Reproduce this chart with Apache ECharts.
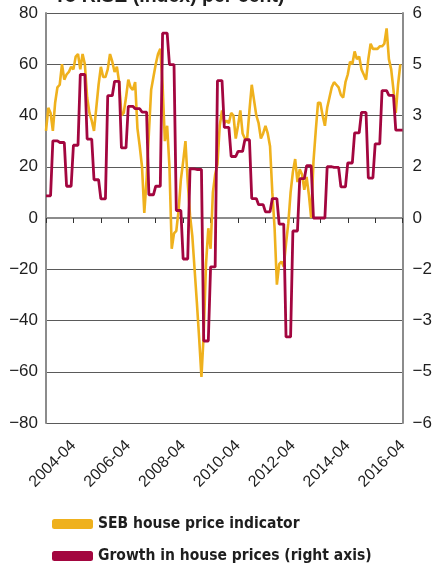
<!DOCTYPE html>
<html>
<head>
<meta charset="utf-8">
<script src="https://cdn.jsdelivr.net/npm/echarts@6/dist/echarts.min.js"></script>
<style>
  html, body { margin: 0; padding: 0; background: #ffffff; }
  #chart { width: 435px; height: 564px; }
</style>
</head>
<body>
<div id="chart"></div>
<script>
// Monthly categories, April 2003 to April 2016
const firstYear = 2003, firstMonth = 4, lastYear = 2016, lastMonth = 4;
const months = [];
for (let y = firstYear; y <= lastYear; y++) {
  for (let m = 1; m <= 12; m++) {
    if (y === firstYear && m < firstMonth) continue;
    if (y === lastYear && m > lastMonth) break;
    months.push(y + '-' + (m < 10 ? '0' + m : m));
  }
}

// Labelled dates on the time axis
const tickLabels = ['2004-04', '2006-04', '2008-04', '2010-04', '2012-04', '2014-04', '2016-04'];

const seriesNames = ['SEB house price indicator', 'Growth in house prices (right axis)'];

// SEB house price indicator (index), monthly from 2003-04
const sebIndicator = [
  34, 43, 41, 34, 45, 51, 52, 60, 54, 56, 57, 59,
  58, 63, 64, 58, 64, 60, 47, 41, 38, 34, 43, 52,
  59, 55, 55, 58, 64, 61, 57, 59, 53, 40, 41, 47,
  54, 51, 50, 53, 35, 28, 20, 2, 15, 33, 50, 55,
  60, 64, 66, 52, 30, 36, 20, -12, -6, -5, 3, 15,
  22, 30, 14, 1, -7, -20, -33, -47, -62, -45, -18, -4,
  -12, 10, 17, 21, 36, 42, 37, 38, 37, 41, 40, 31,
  36, 42, 33, 31, 31, 42, 52, 46, 40, 37, 31, 33,
  36, 33, 28, 10, -4, -26, -18, -17, -19, -10, -2, 10,
  18, 23, 14, 19, 17, 11, 16, 9, 0, 22, 34, 45,
  45, 40, 36, 43, 47, 51, 53, 52, 51, 48, 47, 53,
  56, 61, 60, 65, 62, 63, 58, 56, 54, 62, 68, 66,
  66, 66, 67, 67, 68, 74, 62, 58, 50, 41, 52, 60
];

// Growth in house prices (per cent, right axis), monthly from 2003-04
const priceGrowth = [
  0.65, 0.65, 0.65, 2.26, 2.26, 2.26, 2.21, 2.21, 2.21, 0.93, 0.93, 0.93,
  2.13, 2.13, 2.13, 4.2, 4.2, 4.2, 2.31, 2.31, 2.31, 1.12, 1.12, 1.12,
  0.56, 0.56, 0.56, 3.58, 3.58, 3.58, 4.0, 4.0, 4.0, 2.05, 2.05, 2.05,
  3.27, 3.27, 3.27, 3.2, 3.2, 3.2, 3.1, 3.1, 3.1, 0.68, 0.68, 0.68,
  0.93, 0.93, 0.93, 5.41, 5.41, 5.41, 4.49, 4.49, 4.49, 0.22, 0.22, 0.22,
  -1.2, -1.2, -1.2, 1.44, 1.44, 1.44, 1.42, 1.42, 1.42, -3.6, -3.6, -3.6,
  -1.43, -1.43, -1.43, 4.02, 4.02, 4.02, 2.65, 2.65, 2.65, 1.8, 1.8, 1.8,
  1.95, 1.95, 1.95, 2.29, 2.29, 2.29, 0.57, 0.57, 0.57, 0.39, 0.39, 0.39,
  0.18, 0.18, 0.18, 0.57, 0.57, 0.57, -0.18, -0.18, -0.18, -3.48, -3.48, -3.48,
  -0.38, -0.38, -0.38, 1.15, 1.15, 1.15, 1.53, 1.53, 1.53, 0, 0, 0,
  0, 0, 0, 1.5, 1.5, 1.5, 1.48, 1.48, 1.48, 0.91, 0.91, 0.91,
  1.61, 1.61, 1.61, 2.49, 2.49, 2.49, 3.09, 3.09, 3.09, 1.17, 1.17, 1.17,
  2.17, 2.17, 2.17, 3.73, 3.73, 3.73, 3.59, 3.59, 3.59, 2.57, 2.57, 2.57, 2.57
];

const YELLOW = '#EFB11D';
const WINE = '#A3063F';
const AXIS_GREY = '#8c8c8c';
const TEXT = '#1e1e1e';
const NUM_FONT = '"Liberation Sans", Arial, sans-serif';
const LEGEND_FONT = '"DejaVu Sans Condensed", "DejaVu Sans", sans-serif';

function minusSign(v) {
  return String(v).replace('-', '\u2212');
}

// One legend row per series, stacked under the plot
function legendRow(name, top) {
  return {
    left: 47,
    top: top,
    itemWidth: 41,
    itemHeight: 10,
    icon: 'roundRect',
    data: [name],
    textStyle: {
      fontFamily: LEGEND_FONT,
      fontWeight: 'bold',
      fontSize: 15.5,
      color: TEXT
    }
  };
}

const chart = echarts.init(document.getElementById('chart'), null, { renderer: 'canvas' });

chart.setOption({
  animation: false,
  backgroundColor: '#ffffff',
  title: {
    text: 'To RISE (Index) per cent)',
    left: 49,
    top: -18,
    textStyle: { fontFamily: NUM_FONT, fontSize: 19.5, fontWeight: 'bold', color: TEXT }
  },
  grid: { left: 46, right: 32, top: 13, bottom: 141, containLabel: false },
  legend: [legendRow(seriesNames[0], 511), legendRow(seriesNames[1], 543)],
  xAxis: {
    type: 'category',
    data: months,
    boundaryGap: false,
    axisLine: { lineStyle: { color: AXIS_GREY, width: 2 } },
    axisTick: {
      interval: function (index, value) { return value.slice(5) === '04'; },
      length: 5,
      lineStyle: { color: '#333333', width: 1 }
    },
    axisLabel: {
      interval: function (index, value) { return tickLabels.indexOf(value) >= 0; },
      rotate: 45,
      margin: 20,
      fontFamily: NUM_FONT,
      fontSize: 16,
      color: TEXT
    },
    splitLine: { show: false }
  },
  yAxis: [
    {
      type: 'value',
      min: -80,
      max: 80,
      interval: 20,
      axisLine: { show: true, lineStyle: { color: AXIS_GREY, width: 2 } },
      axisTick: { show: false },
      axisLabel: {
        margin: 8,
        fontFamily: NUM_FONT,
        fontSize: 17,
        color: TEXT,
        formatter: minusSign
      },
      splitLine: { show: true, lineStyle: { color: '#5a5a5a', width: 1 } }
    },
    {
      type: 'value',
      position: 'right',
      min: -6,
      max: 6,
      interval: 1.5,
      axisLine: { show: true, lineStyle: { color: AXIS_GREY, width: 2 } },
      axisTick: { show: false },
      axisLabel: {
        margin: 10,
        fontFamily: NUM_FONT,
        fontSize: 17,
        color: TEXT,
        formatter: function (v) {
          const r = Math.sign(v) * Math.round(Math.abs(v));
          return minusSign(r);
        }
      },
      splitLine: { show: false }
    }
  ],
  series: [
    {
      name: seriesNames[0],
      type: 'line',
      yAxisIndex: 0,
      data: sebIndicator,
      showSymbol: false,
      color: YELLOW,
      lineStyle: { color: YELLOW, width: 2.6 },
      itemStyle: { color: YELLOW },
      z: 2
    },
    {
      name: seriesNames[1],
      type: 'line',
      yAxisIndex: 1,
      data: priceGrowth,
      showSymbol: false,
      color: WINE,
      lineStyle: { color: WINE, width: 2.8 },
      itemStyle: { color: WINE },
      z: 3
    }
  ]
});
</script>
</body>
</html>
